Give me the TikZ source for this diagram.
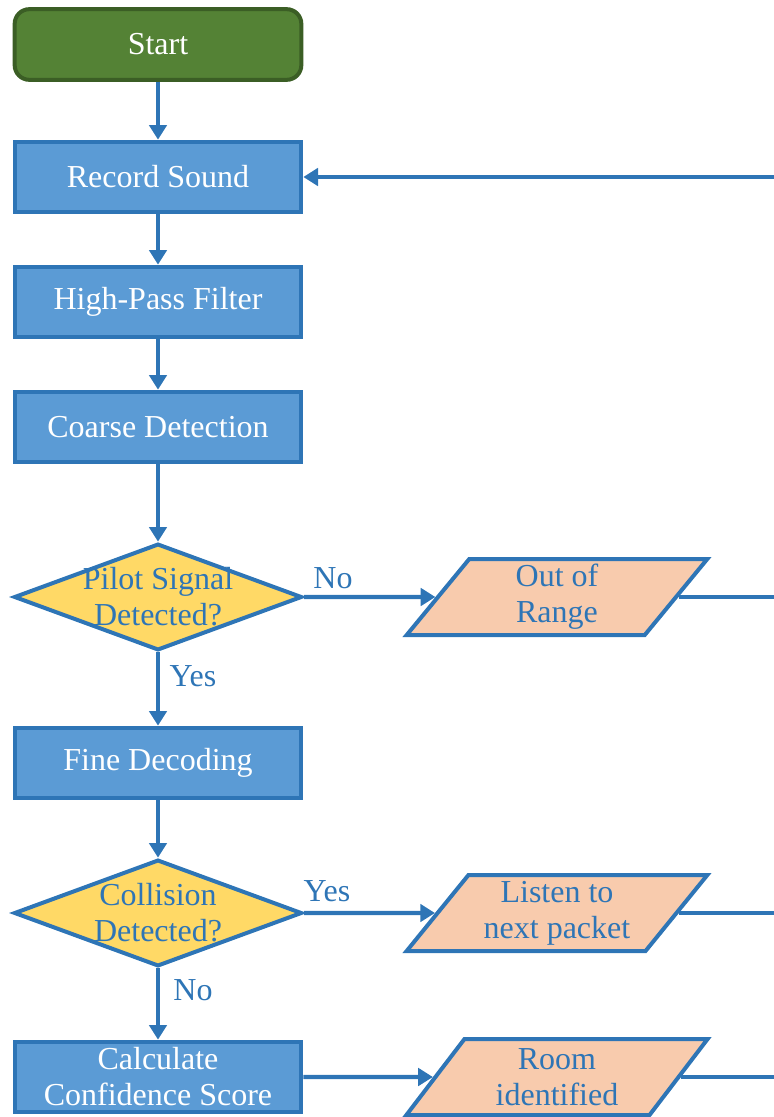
\documentclass[tikz,border=0pt]{standalone}
\usepackage{fontspec}
\setmainfont{Liberation Serif}
\usetikzlibrary{shapes.geometric, arrows.meta}
\definecolor{boxblue}{HTML}{5B9BD5}
\definecolor{lineblue}{HTML}{2E75B6}
\definecolor{startgreen}{HTML}{548235}
\definecolor{startedge}{HTML}{3B5E25}
\definecolor{decyellow}{HTML}{FFD966}
\definecolor{outpeach}{HTML}{F8CBAD}
\tikzset{
	startbox/.style = {rectangle, rounded corners=11pt, draw=startedge, fill=startgreen, line width=3pt, text=white, minimum width=215pt, minimum height=53pt},
	process/.style = {rectangle, draw=lineblue, fill=boxblue, line width=3pt, text=white, minimum width=215pt, minimum height=53pt, inner sep=1pt, align=center},
	decision/.style = {diamond, draw=lineblue, fill=decyellow, line width=3pt, minimum width=216pt, minimum height=80pt, inner sep=0pt},
	outcome/.style = {trapezium, trapezium left angle=51, trapezium right angle=129, trapezium stretches=true, draw=lineblue, fill=outpeach, line width=3pt, text=lineblue, text width=114pt, align=flush center, minimum width=226pt, minimum height=57pt, inner sep=1pt},
	flow/.style = {draw=lineblue, line width=3.2pt, -{Triangle[width=13pt, length=11pt]}},
	plain/.style = {draw=lineblue, line width=3.2pt},
	branch/.style = {text=lineblue}
}
\begin{document}
\begin{tikzpicture} [x = 0.75pt, y = -0.75pt, font = \fontsize{24}{27}\selectfont]
	\useasboundingbox (0,0) rectangle (774,1117);
	% main column
	\node [startbox] (start) at (158,44.5) {Start};
	\node [process] (record) at (158,177) {Record Sound};
	\node [process] (highpass) at (158,302) {High-Pass Filter};
	\node [process] (coarse) at (158,427) {Coarse Detection};
	\node [decision, label = {[text = lineblue, align = center]center:Pilot Signal\\Detected?}] (pilot) at (158,597) {};
	\node [process] (fine) at (158,763) {Fine Decoding};
	\node [decision, label = {[text = lineblue, align = center]center:Collision\\Detected?}] (collision) at (158,913) {};
	\node [process] (confidence) at (158,1077) {Calculate\\Confidence Score};
	% outcomes
	\node [outcome] (range) at (557,597) {Out of\\Range};
	\node [outcome] (listen) at (557,913) {Listen to\\next packet};
	\node [outcome] (room) at (557,1077) {Room\\identified};
	\coordinate (loop) at (774,177);
	% connectors
	\draw [flow] (start) -- (record);
	\draw [flow] (record) -- (highpass);
	\draw [flow] (highpass) -- (coarse);
	\draw [flow] (coarse) -- (pilot);
	\draw [flow] (pilot) -- (fine);
	\draw [flow] (fine) -- (collision);
	\draw [flow] (collision) -- (confidence);
	\draw [flow] (pilot.east) -- (range.west);
	\draw [flow] (collision.east) -- (listen.west);
	\draw [flow] (confidence.east) -- (room.west);
	\draw [plain] (range.east) -- (range.east -| loop);
	\draw [plain] (listen.east) -- (listen.east -| loop);
	\draw [plain] (room.east) -- (room.east -| loop);
	\draw [flow] (loop) -- (record.east);
	% branch labels
	\node [branch] (pilotno) at (333,578) {No};
	\node [branch] (pilotyes) at (193,676) {Yes};
	\node [branch] (collyes) at (327,891) {Yes};
	\node [branch] (collno) at (193,990) {No};
\end{tikzpicture}
\end{document}
